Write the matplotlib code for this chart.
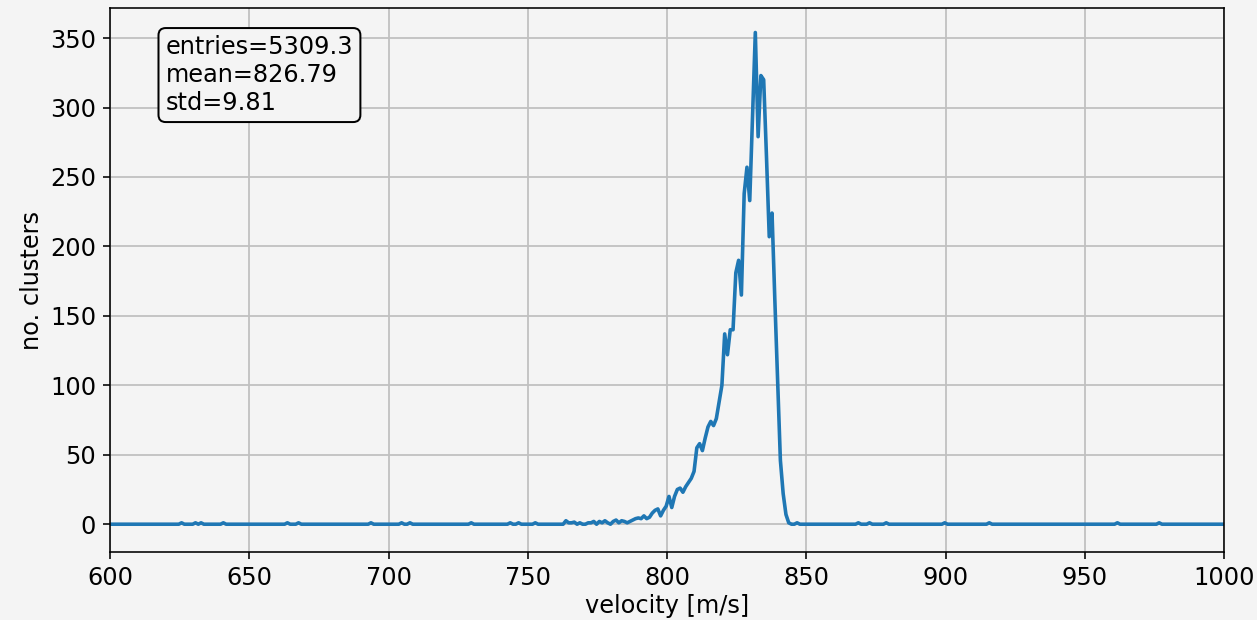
import numpy as np
import matplotlib
matplotlib.use("Agg")
import matplotlib.pyplot as plt

# histogram bins (1 m/s wide), centres sit at x.7
velocity = np.arange(401) + 599.7

# main peak, consecutive bins starting at 760.7 m/s
peak_start = 760.7
peak_counts = [
    0, 0, 0, 2.5, 1, 1, 1.5, 0, 1, 0,
    0, 1, 1, 2, 0, 2, 1, 2.5, 1, 0,
    2, 3, 1, 2.5, 2, 1, 2, 3, 4, 4.5,
    4, 6, 4, 5, 8, 10, 11, 6, 10, 13,
    20, 12, 20, 25, 26, 23, 27, 30, 33, 38,
    55, 58, 53, 62, 70, 74, 71, 76, 88, 100,
    137, 122, 140, 140, 181, 190, 165, 238, 257, 233,
    294, 354, 279, 323, 320, 265, 207, 224, 162, 105,
    46, 22, 7, 1, 0, 0, 1, 0,
]

# isolated single-count bins outside the peak
blip_v = [625.7, 630.7, 632.7, 640.7, 663.7, 667.7, 693.7, 704.7, 707.7,
          729.7, 743.7, 746.7, 752.7, 868.7, 872.7, 878.7, 899.7, 915.7,
          961.7, 976.7]
blip_n = [1] * len(blip_v)

stats_text = "entries=5309.3\nmean=826.79\nstd=9.81"

counts = np.zeros(len(velocity))
i0 = int(round(peak_start - velocity[0]))
counts[i0:i0 + len(peak_counts)] = peak_counts
for v, n in zip(blip_v, blip_n):
    counts[int(round(v - velocity[0]))] = n

bg = "#f4f4f4"
plt.rcParams["font.size"] = 12

fig = plt.figure(figsize=(1257 / 144, 620 / 144), dpi=144, facecolor=bg)
ax = fig.add_axes([0.0875, 0.1097, 0.8863, 0.8773])
ax.set_facecolor(bg)

ax.plot(velocity, counts, color="#1f77b4", lw=1.8)
ax.set_xlim(600, 1000)
ax.set_ylim(-20, 371.6)
ax.grid(True, color="#c0c0c0", lw=0.9)
ax.set_axisbelow(True)
ax.set_xlabel("velocity [m/s]", labelpad=2)
ax.set_ylabel("no. clusters", labelpad=3)

ax.text(0.05, 0.95, stats_text, transform=ax.transAxes, va="top", ha="left",
        bbox=dict(boxstyle="round", facecolor=bg, edgecolor="black"))

fig.savefig("out.png", dpi=144, facecolor=bg)
